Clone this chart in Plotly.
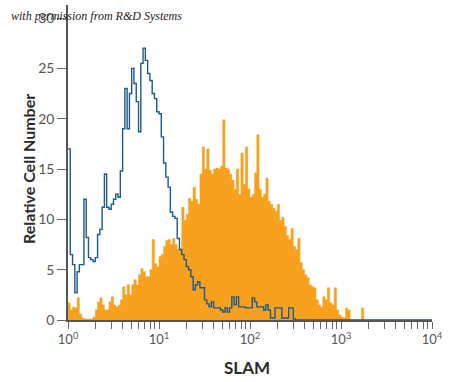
import numpy as np
import plotly.graph_objects as go

# histogram bins: 40 per decade from 10^0 to 10^4
bins_per_decade = 40
n_bins = 160

# Blue (control) histogram counts, bins 0..99 (rest zero)
control_counts = [
    17.0, 6.5, 5.5, 2.7, 4.8, 5.5, 5.5, 12.0, 8.2, 6.2,
    6.0, 5.8, 6.2, 8.5, 9.0, 11.2, 14.5, 11.2, 11.0, 11.5,
    12.0, 12.5, 12.2, 14.8, 19.0, 23.0, 19.0, 22.5, 25.0, 23.5,
    21.7, 18.7, 25.5, 27.0, 25.8, 24.5, 23.8, 22.5, 22.0, 20.7,
    20.5, 18.2, 15.6, 14.2, 13.2, 10.7, 10.3, 10.1, 8.1, 7.0,
    6.5, 6.0, 5.3, 5.0, 4.3, 3.0, 3.5, 3.8, 3.2, 3.2,
    2.0, 1.6, 1.3, 1.8, 1.2, 1.2, 1.2, 1.0, 0.8, 1.2,
    0.8, 1.2, 2.3, 1.5, 2.3, 1.3, 1.3, 1.3, 1.2, 1.2,
    1.2, 2.2, 1.8, 1.3, 1.3, 1.3, 1.0, 1.5, 1.0, 0.2,
    0.2, 1.2, 1.2, 1.2, 0.2, 0.2, 0.2, 1.2, 1.2, 0.1,
]

# Orange (SLAM stained) histogram counts, bins 0..129 (rest zero)
slam_counts = [
    1.7, 1.0, 1.3, 1.2, 2.2, 0.6, 0.2, 0.1, 0.1, 0.1,
    0.1, 0.3, 1.0, 1.8, 2.2, 1.5, 1.0, 1.0, 1.8, 2.3,
    1.5, 1.3, 1.5, 2.0, 3.3, 2.5, 3.5, 2.5, 3.5, 4.0,
    3.5, 4.5, 5.1, 4.8, 4.3, 4.3, 5.0, 8.0, 5.6, 5.3,
    6.3, 6.5, 7.3, 7.9, 8.0, 7.5, 8.1, 7.5, 7.0, 7.0,
    11.2, 9.9, 10.5, 12.1, 11.8, 13.2, 12.0, 11.5, 14.5, 17.2,
    15.0, 17.0, 14.9, 14.5, 15.0, 15.1, 15.0, 15.3, 19.9, 15.1,
    15.0, 14.5, 13.9, 13.0, 15.0, 12.5, 16.6, 13.5, 17.2, 13.0,
    12.2, 12.5, 14.6, 18.4, 13.0, 12.2, 12.5, 14.1, 11.8, 11.5,
    11.1, 10.8, 11.5, 9.9, 10.2, 9.3, 8.4, 8.0, 9.1, 7.3,
    7.0, 8.1, 5.7, 5.0, 4.5, 4.2, 3.5, 3.3, 3.2, 2.0,
    1.5, 1.3, 2.3, 2.0, 3.2, 1.7, 1.5, 3.2, 1.0, 0.5,
    0.3, 0.2, 1.2, 1.0, 0.0, 0.0, 0.0, 0.0, 0.0, 1.2,
]

y_ticks = [0, 5, 10, 15, 20, 25, 30]
x_tickvals = [1, 10, 100, 1000, 10000]
x_ticktext = ["10<sup>0</sup>", "10<sup>1</sup>", "10<sup>2</sup>", "10<sup>3</sup>", "10<sup>4</sup>"]
x_minor = [m * 10 ** d for d in range(4) for m in range(2, 10)]

edges = 10 ** (np.arange(n_bins + 1) / bins_per_decade)


def padded(vals):
    v = list(vals) + [0.0] * (n_bins - len(vals))
    return v + [v[-1]]


fig = go.Figure()
fig.add_trace(go.Scatter(
    x=edges, y=padded(slam_counts), mode="lines", line_shape="hv",
    line=dict(color="#F7A11E", width=0.5), fill="tozeroy", fillcolor="#F7A11E",
    hoverinfo="skip", showlegend=False,
))
fig.add_trace(go.Scatter(
    x=edges, y=padded(control_counts), mode="lines", line_shape="hv",
    line=dict(color="#1D5A88", width=1.4),
    hoverinfo="skip", showlegend=False,
))

sans = "Lato, Roboto, sans-serif"

fig.update_layout(
    width=450, height=382,
    margin=dict(l=68, r=18, t=5, b=62),
    paper_bgcolor="white", plot_bgcolor="white",
    xaxis=dict(
        type="log", range=[0, 4], showgrid=False, zeroline=False,
        showline=True, linecolor="#555555", linewidth=1.5,
        tickmode="array", tickvals=x_tickvals, ticktext=x_ticktext,
        ticks="outside", ticklen=7, tickcolor="#666666", tickwidth=1,
        tickfont=dict(family=sans, size=13, color="#555555"),
        minor=dict(tickvals=x_minor, ticks="outside", ticklen=7, tickcolor="#666666", tickwidth=1, showgrid=False),
    ),
    yaxis=dict(
        range=[0, 31.3], showgrid=False, zeroline=False,
        showline=True, linecolor="#555555", linewidth=1.5,
        tickmode="array", tickvals=y_ticks,
        ticks="outside", ticklen=9, tickcolor="#666666", tickwidth=1,
        tickfont=dict(family=sans, size=14, color="#555555"),
    ),
    annotations=[
        dict(text="<b>Relative Cell Number</b>", textangle=-90, xref="paper", yref="paper",
             x=0, y=0.5, xshift=-51, yshift=-7, showarrow=False,
             font=dict(family=sans, size=16, color="#2a2a2a")),
        dict(text="<b>SLAM</b>", xref="paper", yref="paper", x=0.492, y=0,
             yshift=-47, showarrow=False, yanchor="middle",
             font=dict(family=sans, size=17, color="#2a2a2a")),
        dict(text="<i>with permission from R&D Systems</i>", xref="paper", yref="paper",
             x=0, y=1, xshift=-59, yshift=-11, xanchor="left", yanchor="middle", showarrow=False,
             font=dict(family="Liberation Serif, serif", size=12, color="#222222")),
    ],
)

fig.write_html("out.html", config={"displayModeBar": False},
               post_script="document.body.style.margin='0px';")
